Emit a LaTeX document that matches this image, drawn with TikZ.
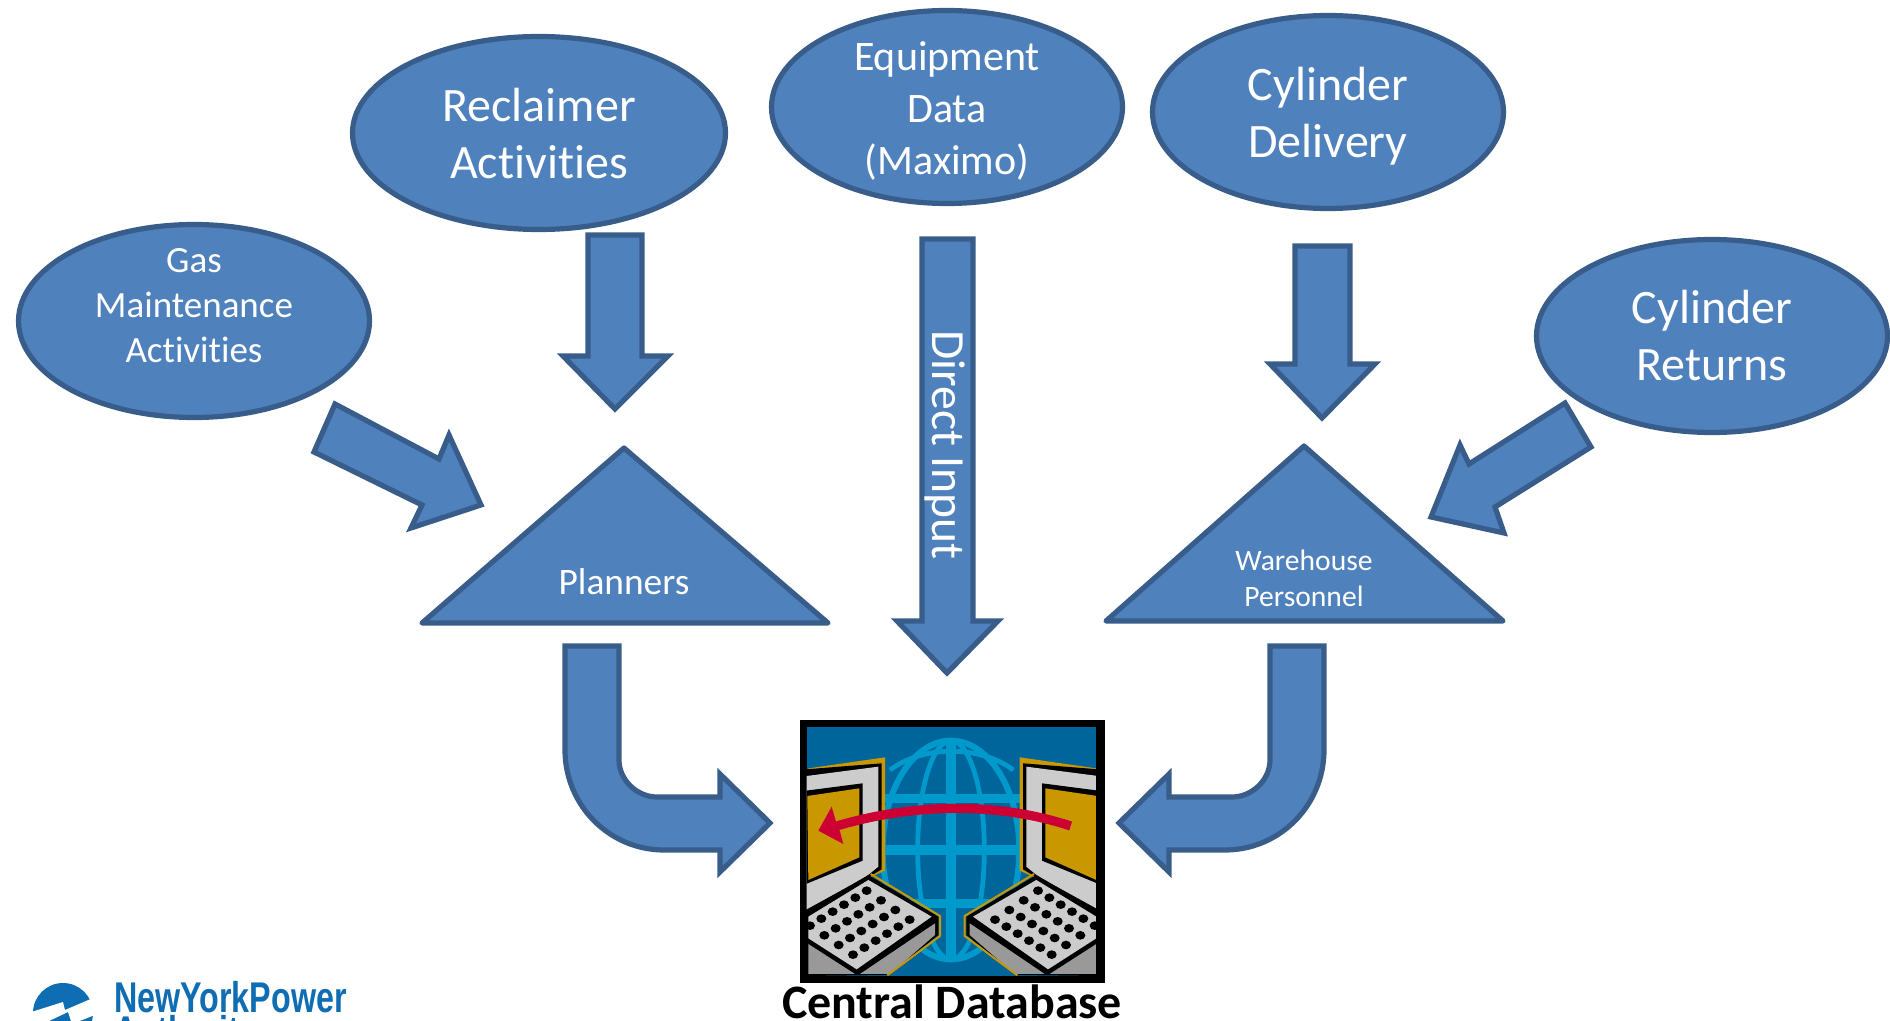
\documentclass[tikz,border=0pt]{standalone}
\usepackage{fontspec}
\setmainfont[Ligatures=NoCommon]{Carlito}
\newfontfamily\logofont{Liberation Sans}
\usetikzlibrary{shapes.geometric}
\definecolor{shapefill}{HTML}{4F81BD}
\definecolor{shapeline}{HTML}{385D8A}
\definecolor{dbblue}{HTML}{00659A}
\definecolor{dbglobe}{HTML}{0099CC}
\definecolor{dbgold}{HTML}{C99700}
\definecolor{dbgray}{HTML}{CCCCCC}
\definecolor{dbdark}{HTML}{999999}
\definecolor{dbred}{HTML}{CC0033}
\definecolor{logoblue}{HTML}{0F6DB3}
\tikzset{
  blob/.style={ellipse,draw=shapeline,fill=shapefill,line width=2.6pt,inner sep=0pt},
  blockshape/.style={draw=shapeline,fill=shapefill,line width=2.6pt,line join=miter},
  triangleshape/.style={draw=shapeline,fill=shapefill,line width=2.6pt,line join=round},
  lbl/.style={text=white,inner sep=0pt,align=center},
  fsA/.style={font=\fontsize{24}{28.5}\selectfont},
  fsB/.style={font=\fontsize{21}{26}\selectfont},
  fsC/.style={font=\fontsize{18.5}{22.5}\selectfont},
  fsD/.style={font=\fontsize{18.7}{18.7}\selectfont},
  fsF/.style={font=\fontsize{23.8}{24}\selectfont},
  fsE/.style={font=\fontsize{14.8}{18}\selectfont},
  logotext/.style={anchor=base west,inner sep=0pt,text=logoblue,font=\logofont\bfseries\fontsize{21.5}{21.5}\selectfont,xscale=0.75},
}
\newcommand{\dblaptop}{%
  % screen
  \fill[dbgold] (85,205)--(315,172)--(315,512)--(275,530)--(85,625)--cycle;
  \fill[black] (78,208)--(305,190)--(305,508)--(265,532)--(78,642)--cycle;
  \fill[dbgray] (80,228)--(295,200)--(295,500)--(258,530)--(80,628)--cycle;
  \fill[black] (78,272)--(248,250)--(248,482)--(78,552)--cycle;
  \fill[dbgold] (82,288)--(238,265)--(238,472)--(85,540)--cycle;
  % base
  \fill[black] (78,635)--(265,525)--(475,650)--(475,705)--(325,825)--(78,828)--cycle;
  \fill[dbdark] (85,732)--(225,822)--(85,822)--cycle;
  \fill[dbdark] (240,822)--(465,670)--(465,705)--(330,822)--cycle;
  \fill[dbgray] (85,650)--(265,540)--(455,650)--(230,808)--(85,715)--cycle;
  \draw[dbgold,line width=1pt] (272,522)--(480,648)--(480,708)--(322,826);
  \foreach \i in {0,...,5}{\foreach \j in {0,...,3}{
    \fill[black] ({260-34*\i+43*\j},{572+21*\i+29*\j}) ellipse (15 and 13);
  }}
}
\begin{document}
\begin{tikzpicture}[x=0.5pt,y=-0.5pt]
\useasboundingbox (0,0) rectangle (1890,1021);
\clip (0,0) rectangle (1890,1021);
% ellipses
\node[blob,minimum width=175.5pt,minimum height=96.5pt] (gas) at (194,321) {};
\node[lbl,fsC] (gastext) at (194,306) {Gas\\Maintenance\\Activities};
\node[blob,minimum width=186.5pt,minimum height=96.5pt] (reclaimer) at (539,133) {};
\node[lbl,fsA] (reclaimertext) at (539,134) {Reclaimer\\Activities};
\node[blob,minimum width=175.5pt,minimum height=96.5pt] (equipment) at (947,107) {};
\node[lbl,fsB] (equipmenttext) at (947,111) {Equipment\\Data\\(Maximo)};
\node[blob,minimum width=175.5pt,minimum height=96.5pt] (delivery) at (1328,112) {};
\node[lbl,fsA] (deliverytext) at (1328,116) {Cylinder\\Delivery};
\node[blob,minimum width=175.5pt,minimum height=96.5pt] (returns) at (1712,336) {};
\node[lbl,fsA] (returnstext) at (1712,336) {Cylinder\\Returns};
% triangles
\draw[triangleshape] (624,448)--(828,623)--(422,623)--cycle;
\node[lbl,fsD] (planners) at (624,582) {Planners};
\draw[triangleshape] (1304,446)--(1503,621)--(1106,621)--cycle;
\node[lbl,fsE] (warehouse) at (1304,578) {Warehouse\\Personnel};
% straight block arrows
\draw[blockshape] (588,235)--(642,235)--(642,356)--(668,356)--(615,409)--(563,356)--(588,356)--cycle;
\draw[blockshape] (922,239)--(973,239)--(973,621)--(998,621)--(947,673)--(897,621)--(922,621)--cycle;
\node[lbl,fsF,rotate=-90] (direct) at (945,445) {Direct Input};
\draw[blockshape] (1295,246)--(1350,246)--(1350,364)--(1375,364)--(1322,418)--(1270,364)--(1295,364)--cycle;
\draw[blockshape] (335,404)--(314,452)--(422,505)--(411,528)--(481,505)--(449,435)--(439,459)--cycle;
\draw[blockshape] (1565,403)--(1591,447)--(1495,507)--(1504,533)--(1431,517)--(1460,445)--(1469,464)--cycle;
% bent block arrows
\draw[blockshape] (565,646)--(565,750) .. controls (565,805) and (609,850) .. (664,850)--(720,850)--(720,872)--(770,823)--(720,774)--(720,797)--(657,797) .. controls (637,797) and (619,780) .. (619,760)--(619,646)--cycle;
\draw[blockshape] (1324,646)--(1324,750) .. controls (1324,805) and (1280,850) .. (1225,850)--(1169,850)--(1169,872)--(1119,823)--(1169,774)--(1169,797)--(1232,797) .. controls (1252,797) and (1270,780) .. (1270,760)--(1270,646)--cycle;
% database picture
\begin{scope}[shift={(780,700)},x=0.5pt/3,y=-0.5pt/3]
  \fill[black] (60,60) rectangle (975,848);
  \fill[dbblue] (80,80) rectangle (948,828);
  \begin{scope}
    \clip (80,80) rectangle (948,828);
    \draw[dbglobe,line width=3pt] (513,450) ellipse (205 and 328);
    \draw[dbglobe,line width=2.4pt] (513,450) ellipse (100 and 328);
    \draw[dbglobe,line width=4.8pt] (513,120)--(513,780);
    \draw[dbglobe,line width=4.8pt] (310,295)--(720,295);
    \draw[dbglobe,line width=4.8pt] (310,450)--(720,450);
    \draw[dbglobe,line width=4.8pt] (330,610)--(700,610);
    \draw[dbglobe,line width=2.4pt] (330,210) .. controls (430,135) and (600,135) .. (700,210);
    \dblaptop
    \begin{scope}[xshift=1034/6*1pt,xscale=-1]
      \dblaptop
    \end{scope}
  \end{scope}
  \draw[dbred,line width=4.6pt] (872,378) .. controls (650,305) and (400,310) .. (170,378);
  \fill[dbred] (115,392)--(155,320)--(168,365)--(180,395)--(190,432)--cycle;
\end{scope}
\node[inner sep=0pt,font=\fontsize{24}{26}\selectfont\bfseries] (central) at (952,1002) {Central Database};
% logo
\fill[logoblue] (63,1013) circle (30);
\fill[white] (25,1014)--(63,1002)--(65,1010)--(100,995)--(100,1013)--(72,1024)--(68,1012)--(30,1030)--cycle;
\node[logotext] (logotop) at (114,1012) {NewYorkPower};
\node[logotext] (logobot) at (114,1046) {Authority};
\end{tikzpicture}
\end{document}
